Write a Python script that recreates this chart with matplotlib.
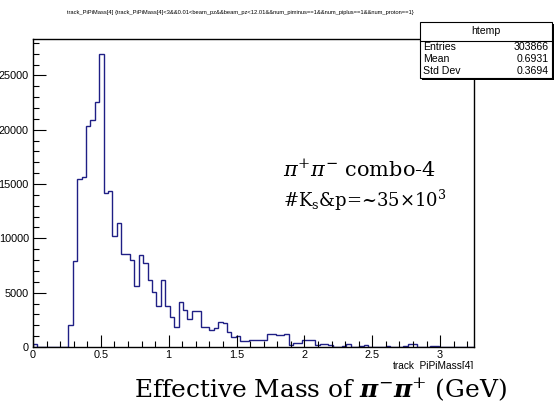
import numpy as np
import matplotlib
matplotlib.use("Agg")
import matplotlib.pyplot as plt
from matplotlib.patches import Rectangle
from matplotlib.ticker import MultipleLocator, FuncFormatter

# ---------------- data ----------------
x_min, x_max, n_bins = 0.0, 3.25, 100
counts_head = [250, 0, 0, 0, 0, 0, 0, 0, 2060, 7960,
               15490, 15680, 20370, 20900, 22590, 27000, 14140, 14320, 10250, 11420,
               8580, 8580, 8050, 5650, 8490, 7710, 6170, 5090, 3800, 6170,
               3800, 2780, 1850, 4170, 3450, 2620, 3300, 3300, 1850, 1850,
               1540, 1760, 2310, 2250, 1390, 930, 990, 520, 520, 680,
               680, 680, 600, 1170, 1170, 1080, 1080, 1170, 220, 400,
               400, 620, 620, 620, 150, 300, 300, 150, 0, 0,
               60, 300, 0, 0, 60, 150, 0, 0, 0, 0,
               100, 0, 0, 0, 60, 300, 300, 0, 0, 0,
               60, 100, 0, 0, 0, 0, 0, 0, 0, 0]
counts = np.array(counts_head, dtype=float)

title_text = ("track_PiPiMass[4] {track_PiPiMass[4]<3&&0.01<beam_pz&&beam_pz<12.01"
              "&&num_piminus==1&&num_piplus==1&&num_proton==1}")
stats_name = "htemp"
stats_labels = ["Entries", "Mean", "Std Dev"]
stats_values = ["303866", "0.6931", "0.3694"]
x_axis_title = "track_PiPiMass[4]"
annot_line1 = r"$\mathit{\pi}^{+}\mathit{\pi}^{-}$ combo-4"
annot_line2 = r"#K$_\mathregular{s}$&p=~35×10$^\mathregular{3}$"
big_xlabel = r"Effective Mass of $\mathbf{\pi}^{-}\mathbf{\pi}^{+}$ (GeV)"

# ---------------- style ----------------
plt.rcParams['mathtext.fontset'] = 'custom'
plt.rcParams['mathtext.rm'] = 'DejaVu Serif'
plt.rcParams['mathtext.it'] = 'DejaVu Serif:italic'
plt.rcParams['mathtext.bf'] = 'DejaVu Serif:italic:bold'

W, H = 554, 409
fig = plt.figure(figsize=(W / 100, H / 100), dpi=100)
fig.patch.set_facecolor('white')

def fx(px):
    return px / W

def fy(py):
    return 1 - py / H

ax_l, ax_r, ax_t, ax_b = 33, 474, 39, 347
ax = fig.add_axes([fx(ax_l), fy(ax_b), fx(ax_r - ax_l), (ax_b - ax_t) / H])

edges = np.linspace(x_min, x_max, n_bins + 1)
ax.stairs(counts, edges, baseline=0, color='#1f1f85', linewidth=1.0)

ax.set_xlim(x_min, x_max)
ax.set_ylim(0, counts.max() * 1.05)

for s in ax.spines.values():
    s.set_linewidth(1.0)
    s.set_color('black')

ax.xaxis.set_major_locator(MultipleLocator(0.5))
ax.xaxis.set_minor_locator(MultipleLocator(0.1))
ax.yaxis.set_major_locator(MultipleLocator(5000))
ax.yaxis.set_minor_locator(MultipleLocator(1000))
ax.tick_params(which='both', direction='in', top=False, right=False, width=0.8,
               labelsize=7.8, colors='black')
ax.tick_params(which='major', length=9.0)
ax.tick_params(which='minor', length=4.5)
ax.tick_params(axis='y', pad=3)
ax.tick_params(axis='x', pad=2.5)
ax.xaxis.set_major_formatter(FuncFormatter(lambda v, p: f"{v:g}"))
ax.yaxis.set_major_formatter(FuncFormatter(lambda v, p: f"{int(v)}"))
for lab in ax.get_xticklabels() + ax.get_yticklabels():
    lab.set_fontfamily('Liberation Sans')

# axis title (ROOT style, right aligned)
fig.text(fx(ax_r), fy(366), x_axis_title, ha='right', va='center',
         fontsize=7.3, family='Liberation Sans')

# white band hiding lower part of the axis title, then big label
fig.patches.append(Rectangle((0, 0), 1, fy(369), transform=fig.transFigure,
                             facecolor='white', edgecolor='none', zorder=5))
fig.text(fx(320), fy(397), big_xlabel, ha='center', va='baseline',
         fontsize=17.9, family='DejaVu Serif', zorder=6)

# tiny ROOT title
fig.text(fx(240), fy(12.5), title_text, ha='center', va='center',
         fontsize=4.15, family='Liberation Sans')

# stats box
bx0, bx1, by0, by1, bsep = 420, 552, 22, 78, 40.5
fig.patches.append(Rectangle((fx(bx0 + 1.5), fy(by1 + 1.5)), fx(bx1 - bx0), (by1 - by0) / H,
                             transform=fig.transFigure, facecolor='black',
                             edgecolor='none', zorder=7))
fig.patches.append(Rectangle((fx(bx0), fy(by1)), fx(bx1 - bx0), (by1 - by0) / H,
                             transform=fig.transFigure, facecolor='white',
                             edgecolor='black', linewidth=0.8, zorder=8))
fig.lines.append(plt.Line2D([fx(bx0), fx(bx1)], [fy(bsep), fy(bsep)],
                            transform=fig.transFigure, color='black', linewidth=0.8, zorder=9))
fig.text(fx((bx0 + bx1) / 2), fy(31.5), stats_name, ha='center', va='center',
         fontsize=7.6, family='Liberation Sans', zorder=10)
row_y = [47.5, 59.5, 71.5]
for lab, val, yy in zip(stats_labels, stats_values, row_y):
    fig.text(fx(423), fy(yy), lab, ha='left', va='center', fontsize=7.6,
             family='Liberation Sans', zorder=10)
    fig.text(fx(549), fy(yy), val, ha='right', va='center', fontsize=7.6,
             family='Liberation Sans', zorder=10)

# annotations
fig.text(fx(283), fy(177), annot_line1, ha='left', va='baseline',
         fontsize=15, family='DejaVu Serif', zorder=6)
fig.text(fx(283), fy(207), annot_line2, ha='left', va='baseline',
         fontsize=13, family='DejaVu Serif', zorder=6)

fig.savefig('out.png', dpi=100, facecolor='white')
